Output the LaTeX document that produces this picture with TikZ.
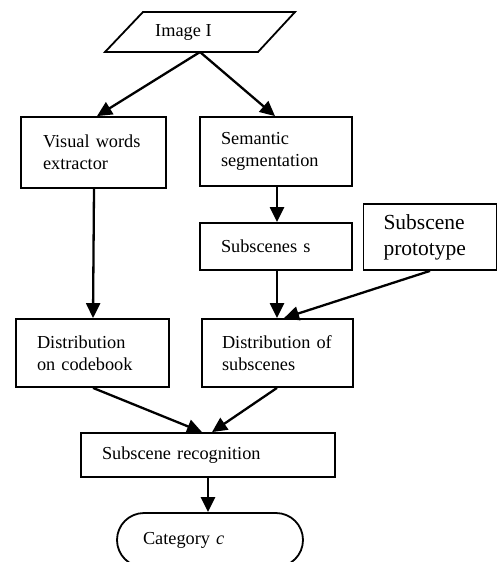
\documentclass[tikz,border=0pt]{standalone}
\usepackage{fontspec}
\setmainfont{Liberation Serif}
\usetikzlibrary{arrows.meta}
\begin{document}
\begin{tikzpicture}[x=1pt,y=-1pt,
  every node/.style={font=\fontsize{18.3}{21.7}\selectfont},
  box/.style={draw, line width=1.8pt, rectangle, inner xsep=0pt, inner ysep=0pt, align=left},
  bigtext/.style={font=\fontsize{21.5}{26}\selectfont},
  arr/.style={-{Triangle[length=15pt,width=14pt]}, line width=2.3pt}]
\useasboundingbox (0,0) rectangle (498,562);
\clip (0,0) rectangle (498,562);
% input parallelogram
\draw[line width=1.8pt] (143,12) -- (295,12) -- (258,52) -- (105,52) -- cycle;
\node[anchor=west, inner sep=0pt] (img) at (155,32) {Image I};
\coordinate (apex) at (200,52);
% boxes
\node[box, minimum width=145, minimum height=71, text width=101] (vis) at (93.5,152.5) {Visual words\\extractor};
\node[box, minimum width=152, minimum height=69, text width=110] (sem) at (276,151.5) {Semantic\\segmentation};
\node[box, minimum width=152, minimum height=47, text width=110] (sub) at (276,246.5) {Subscenes s};
\node[box, bigtext, minimum width=133, minimum height=66, text width=93] (proto) at (430,237) {Subscene\\prototype};
\node[box, minimum width=153, minimum height=68, text width=111] (cod) at (92.5,353) {Distribution\\on codebook};
\node[box, minimum width=151, minimum height=68, text width=111] (dsub) at (277.5,353) {Distribution of\\subscenes};
\node[box, minimum width=254, minimum height=44, text width=212] (rec) at (208,455) {Subscene recognition};
\node[box, rounded corners=27pt, minimum width=186, minimum height=54, text width=134] (cat) at (210,540) {Category \textit{c}};
% connectors
\draw[arr] (apex) -- ([xshift=3.5]vis.north);
\draw[arr] (apex) -- ([xshift=-1]sem.north);
\draw[arr] ([xshift=0.5]vis.south) -- ([xshift=0.5]cod.north);
\draw[arr] ([xshift=1]sem.south) -- ([xshift=1]sub.north);
\draw[arr] ([xshift=1]sub.south) -- ([xshift=-0.5]dsub.north);
\draw[arr] (proto.south) -- ([xshift=6.5]dsub.north);
\draw[arr] ([xshift=0.5]cod.south) -- ([xshift=-6]rec.north);
\draw[arr] ([xshift=-0.5]dsub.south) -- ([xshift=4]rec.north);
\draw[arr] (rec.south) -- ([xshift=-2]cat.north);
\end{tikzpicture}
\end{document}
